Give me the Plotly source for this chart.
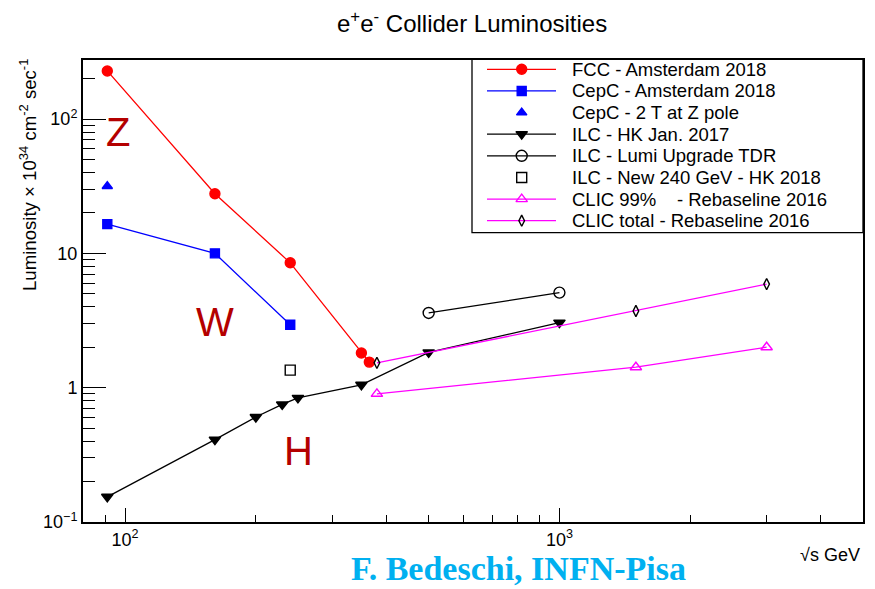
import plotly.graph_objects as go

# ---------------- data ----------------
fcc_x = [91, 161, 240, 350, 365]
fcc_y = [228, 27.8, 8.5, 1.81, 1.55]

cepc_x = [91, 161, 240]
cepc_y = [16.5, 10.0, 2.94]

cepc2t_x = [91]
cepc2t_y = [31.6]

ilc_x = [91, 161, 200, 230, 250, 350, 500, 1000]
ilc_y = [0.154, 0.41, 0.605, 0.75, 0.84, 1.05, 1.83, 3.05]

ilc_up_x = [500, 1000]
ilc_up_y = [3.6, 5.1]

ilc_new_x = [240]
ilc_new_y = [1.35]

clic99_x = [380, 1500, 3000]
clic99_y = [0.90, 1.42, 2.0]

clictot_x = [380, 1500, 3000]
clictot_y = [1.53, 3.72, 5.9]

legend_labels = [
    "FCC - Amsterdam 2018",
    "CepC - Amsterdam 2018",
    "CepC - 2 T at Z pole",
    "ILC - HK Jan. 2017",
    "ILC - Lumi Upgrade TDR",
    "ILC - New 240 GeV - HK 2018",
    "CLIC 99%\u00a0\u00a0\u00a0 - Rebaseline 2016",
    "CLIC total - Rebaseline 2016",
]

x_major = [100, 1000]
x_major_text = ["10<sup>2</sup>", "10<sup>3</sup>"]
x_minor = [90, 200, 300, 400, 500, 600, 700, 800, 900, 2000, 3000, 4000]
y_major = [0.1, 1, 10, 100]
y_major_text = ["10<sup>\u22121</sup>", "1", "10", "10<sup>2</sup>"]
y_minor = [0.2, 0.3, 0.4, 0.5, 0.6, 0.7, 0.8, 0.9,
           2, 3, 4, 5, 6, 7, 8, 9,
           20, 30, 40, 50, 60, 70, 80, 90, 200]

# ---------------- styles ----------------
RED = "#ff0000"
BLUE = "#0000ff"
BLK = "#000000"
MAG = "#ff00ff"
FONT = "Liberation Sans, Arial, sans-serif"

series = [
    # x, y, mode, line color, marker symbol, marker color, size
    (fcc_x, fcc_y, "lines+markers", RED, "circle", RED, 10),
    (cepc_x, cepc_y, "lines+markers", BLUE, "square", BLUE, 9),
    (cepc2t_x, cepc2t_y, "markers", None, "triangle-up", BLUE, 9),
    (ilc_x, ilc_y, "lines+markers", BLK, "triangle-down", BLK, 10),
    (ilc_up_x, ilc_up_y, "lines+markers", BLK, "circle-open", BLK, 11),
    (ilc_new_x, ilc_new_y, "markers", None, "square-open", BLK, 10),
    (clic99_x, clic99_y, "lines+markers", MAG, "triangle-up-open", MAG, 10),
    (clictot_x, clictot_y, "lines+markers", MAG, "diamond-tall-open", BLK, 8),
]

fig = go.Figure()

for (xs, ys, mode, lc, sym, mc, sz), name in zip(series, legend_labels):
    fig.add_trace(go.Scatter(
        x=xs, y=ys, mode=mode, name=name, showlegend=False,
        line=dict(color=lc if lc else mc, width=1.3),
        marker=dict(symbol=sym, color=mc, size=sz,
                    line=dict(color=mc, width=1.4)),
    ))

# ---------------- layout geometry (page has an 8px body margin) ----------------
OFF = 8
FW, FH = 875 - OFF, 589 - OFF
L, T = 83.0, 60.0          # plot-area corner in screenshot pixels
PW, PH = 780.0, 462.0
def px2x(px):
    return (px - L) / PW
def px2y(py):
    return 1 - (py - T) / PH

# ---------------- custom legend (overlay axis in [0,1]) ----------------
row0 = 69.3
row_h = 21.63
lx0, lxm, lx1 = px2x(487), px2x(521.7), px2x(556)
for i, ((xs, ys, mode, lc, sym, mc, sz), name) in enumerate(zip(series, legend_labels)):
    yy = px2y(row0 + i * row_h)
    if lc:
        fig.add_trace(go.Scatter(
            x=[lx0, lx1], y=[yy, yy], mode="lines", xaxis="x2", yaxis="y2",
            showlegend=False, hoverinfo="skip",
            line=dict(color=lc, width=1.3)))
    fig.add_trace(go.Scatter(
        x=[lxm], y=[yy], mode="markers", xaxis="x2", yaxis="y2",
        showlegend=False, hoverinfo="skip",
        marker=dict(symbol=sym, color=mc, size=sz, line=dict(color=mc, width=1.4))))
    fig.add_annotation(x=px2x(570), y=yy, xref="paper", yref="paper",
                       text=name, showarrow=False, xanchor="left", yanchor="middle",
                       font=dict(family=FONT, size=18.5, color="black"))

fig.add_shape(type="rect", xref="paper", yref="paper",
              x0=px2x(472), x1=1.0, y0=px2y(232.7), y1=px2y(59.3),
              line=dict(color="black", width=1.3), fillcolor="rgba(0,0,0,0)",
              layer="above")

# ---------------- big letters ----------------
for letter, cx, cy in [("Z", 118, 132), ("W", 215, 322), ("H", 298, 451)]:
    fig.add_annotation(x=px2x(cx), y=px2y(cy), xref="paper", yref="paper",
                       text=letter, showarrow=False, xanchor="center", yanchor="middle",
                       font=dict(family=FONT, size=40, color="#b40000"))

# ---------------- titles ----------------
fig.add_annotation(x=px2x(472), y=px2y(22), xref="paper", yref="paper",
                   text="e<sup>+</sup>e<sup>-</sup> Collider Luminosities",
                   showarrow=False, xanchor="center", yanchor="middle",
                   font=dict(family=FONT, size=24, color="black"))
fig.add_annotation(x=px2x(28), y=px2y(57), xref="paper", yref="paper",
                   text="Luminosity \u00d7 10<sup>34</sup> cm<sup>-2</sup> sec<sup>-1</sup>",
                   textangle=-90, showarrow=False, xanchor="center", yanchor="top",
                   font=dict(family=FONT, size=18.6, color="black"))
fig.add_annotation(x=px2x(862), y=px2y(555), xref="paper", yref="paper",
                   text="\u221as GeV", showarrow=False, xanchor="right", yanchor="middle",
                   font=dict(family=FONT, size=18, color="black"))
fig.add_annotation(x=px2x(518), y=px2y(589), xref="paper", yref="paper",
                   text="<b>F. Bedeschi, INFN-Pisa</b>", showarrow=False,
                   xanchor="center", yanchor="bottom",
                   font=dict(family="Liberation Serif, Times New Roman, serif",
                             size=34, color="#00b0f0"))

fig.update_layout(
    width=FW, height=FH,
    margin=dict(l=L - OFF, r=FW - (L - OFF) - PW, t=T - OFF, b=FH - (T - OFF) - PH,
                autoexpand=False),
    paper_bgcolor="white", plot_bgcolor="white",
    showlegend=False,
    font=dict(family=FONT, size=18, color="black"),
    xaxis=dict(
        type="log", range=[1.90309, 3.69897],
        tickmode="array", tickvals=x_major, ticktext=x_major_text,
        ticks="inside", ticklen=14, tickwidth=1.3, tickcolor="black",
        minor=dict(tickmode="array", tickvals=x_minor, ticks="inside",
                   ticklen=7, tickwidth=1.3, tickcolor="black", showgrid=False),
        showgrid=False, zeroline=False,
        showline=True, linecolor="black", linewidth=2, mirror=True,
        tickfont=dict(family=FONT, size=18),
    ),
    yaxis=dict(
        type="log", range=[-1, 2.4393],
        tickmode="array", tickvals=y_major, ticktext=y_major_text,
        ticks="inside", ticklen=23, tickwidth=1.3, tickcolor="black",
        minor=dict(tickmode="array", tickvals=y_minor, ticks="inside",
                   ticklen=12, tickwidth=1.3, tickcolor="black", showgrid=False),
        showgrid=False, zeroline=False,
        showline=True, linecolor="black", linewidth=2, mirror=True,
        tickfont=dict(family=FONT, size=18),
    ),
    xaxis2=dict(overlaying="x", range=[0, 1], visible=False, fixedrange=True),
    yaxis2=dict(overlaying="y", range=[0, 1], visible=False, fixedrange=True),
)

fig.write_html("out.html")
